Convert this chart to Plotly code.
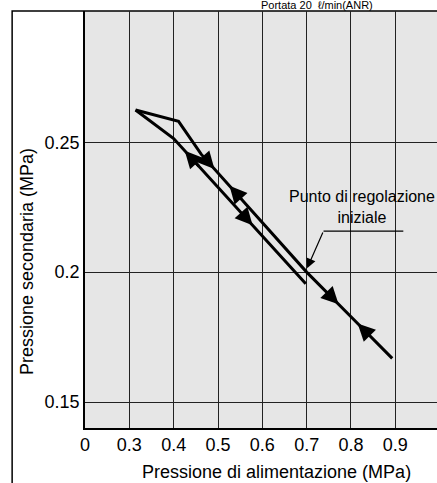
import plotly.graph_objects as go

# ---- data ----
x_tick_vals = [0.2, 0.3, 0.4, 0.5, 0.6, 0.7, 0.8, 0.9]
x_tick_text = ["0", "0.3", "0.4", "0.5", "0.6", "0.7", "0.8", "0.9"]
y_tick_vals = [0.15, 0.2, 0.25]
y_tick_text = ["0.15", "0.2", "0.25"]

lower_x = [0.698, 0.400, 0.314]
lower_y = [0.1955, 0.2514, 0.2624]
upper_x = [0.314, 0.411, 0.462, 0.700, 0.800, 0.893]
upper_y = [0.2624, 0.2580, 0.2454, 0.2000, 0.1828, 0.1668]

# direction arrows: tip and tail points on the curves
arrow_tip_x = [0.425, 0.492, 0.526, 0.578, 0.772, 0.815]
arrow_tip_y = [0.2467, 0.2397, 0.2332, 0.2180, 0.1876, 0.1802]
arrow_tail_x = [0.460, 0.465, 0.556, 0.550, 0.745, 0.845]
arrow_tail_y = [0.2402, 0.2448, 0.2275, 0.2233, 0.1923, 0.1751]

# set point callout
set_point = (0.701, 0.2015)
callout_x = [0.738, 0.918]
callout_y = [0.2158, 0.2158]
callout_label = "Punto di regolazione<br>iniziale"
callout_label_pos = (0.824, 0.2252)

title_text = "Portata 20  ℓ/min(ANR)"
x_title = "Pressione di alimentazione (MPa)"
y_title = "Pressione secondaria (MPa)"

FONT = "Liberation Sans, Arial, sans-serif"

fig = go.Figure()
fig.add_trace(go.Scatter(x=lower_x, y=lower_y, mode="lines",
                         line=dict(color="black", width=3), showlegend=False,
                         hoverinfo="skip"))
fig.add_trace(go.Scatter(x=upper_x, y=upper_y, mode="lines",
                         line=dict(color="black", width=3), showlegend=False,
                         hoverinfo="skip"))
fig.add_trace(go.Scatter(x=callout_x, y=callout_y, mode="lines",
                         line=dict(color="black", width=1.2), showlegend=False,
                         hoverinfo="skip"))

annotations = []
for tx, ty, sx, sy in zip(arrow_tip_x, arrow_tip_y, arrow_tail_x, arrow_tail_y):
    annotations.append(dict(x=tx, y=ty, ax=sx, ay=sy, xref="x", yref="y",
                            axref="x", ayref="y", text="", showarrow=True,
                            arrowhead=2, arrowsize=1.15, arrowwidth=3,
                            arrowcolor="black"))
annotations.append(dict(x=set_point[0], y=set_point[1], ax=callout_x[0], ay=callout_y[0],
                        xref="x", yref="y", axref="x", ayref="y", text="",
                        showarrow=True, arrowhead=2, arrowsize=1.6, arrowwidth=1.2,
                        arrowcolor="black"))
annotations.append(dict(x=callout_label_pos[0], y=callout_label_pos[1], xref="x", yref="y",
                        text=callout_label, showarrow=False,
                        xanchor="center", yanchor="middle",
                        font=dict(family=FONT, size=16, color="black"),
                        align="center"))
annotations.append(dict(x=0.659, y=1, xref="paper", yref="paper",
                        xanchor="center", yanchor="bottom",
                        text=title_text, showarrow=False, yshift=-2,
                        font=dict(family=FONT, size=11, color="black")))
annotations.append(dict(x=0.545, y=-0.1055, xref="paper", yref="paper",
                        xanchor="center", yanchor="middle",
                        text=x_title, showarrow=False,
                        font=dict(family=FONT, size=18, color="black")))
annotations.append(dict(x=-0.165, y=0.40, xref="paper", yref="paper",
                        xanchor="center", yanchor="middle",
                        text=y_title, showarrow=False, textangle=-90,
                        font=dict(family=FONT, size=18, color="black")))

fig.update_layout(
    width=437, height=483,
    margin=dict(l=85, r=0, t=11, b=55, autoexpand=False),
    paper_bgcolor="white", plot_bgcolor="#e6e6e6",
    annotations=annotations,
    shapes=[dict(type="rect", xref="paper", yref="paper",
                 x0=-0.207, x1=1.2, y0=-0.3, y1=1.0,
                 line=dict(color="black", width=1.5), layer="below")],
    font=dict(family=FONT, size=18, color="black"),
)
fig.update_xaxes(range=[0.2, 0.994], tickvals=x_tick_vals, ticktext=x_tick_text,
                 showgrid=True, gridcolor="#222222", gridwidth=1.3,
                 showline=True, linecolor="black", linewidth=1.5,
                 zeroline=False, ticks="", tickfont=dict(size=18), automargin=False)
fig.update_yaxes(range=[0.14, 0.3005], tickvals=y_tick_vals, ticktext=y_tick_text,
                 showgrid=True, gridcolor="#222222", gridwidth=1.3,
                 showline=True, linecolor="black", linewidth=1.5,
                 zeroline=False, ticks="", tickfont=dict(size=18), automargin=False)

fig.write_html("out.html", config={"displayModeBar": False},
               post_script="document.body.style.margin='0';document.body.style.overflow='hidden';")
